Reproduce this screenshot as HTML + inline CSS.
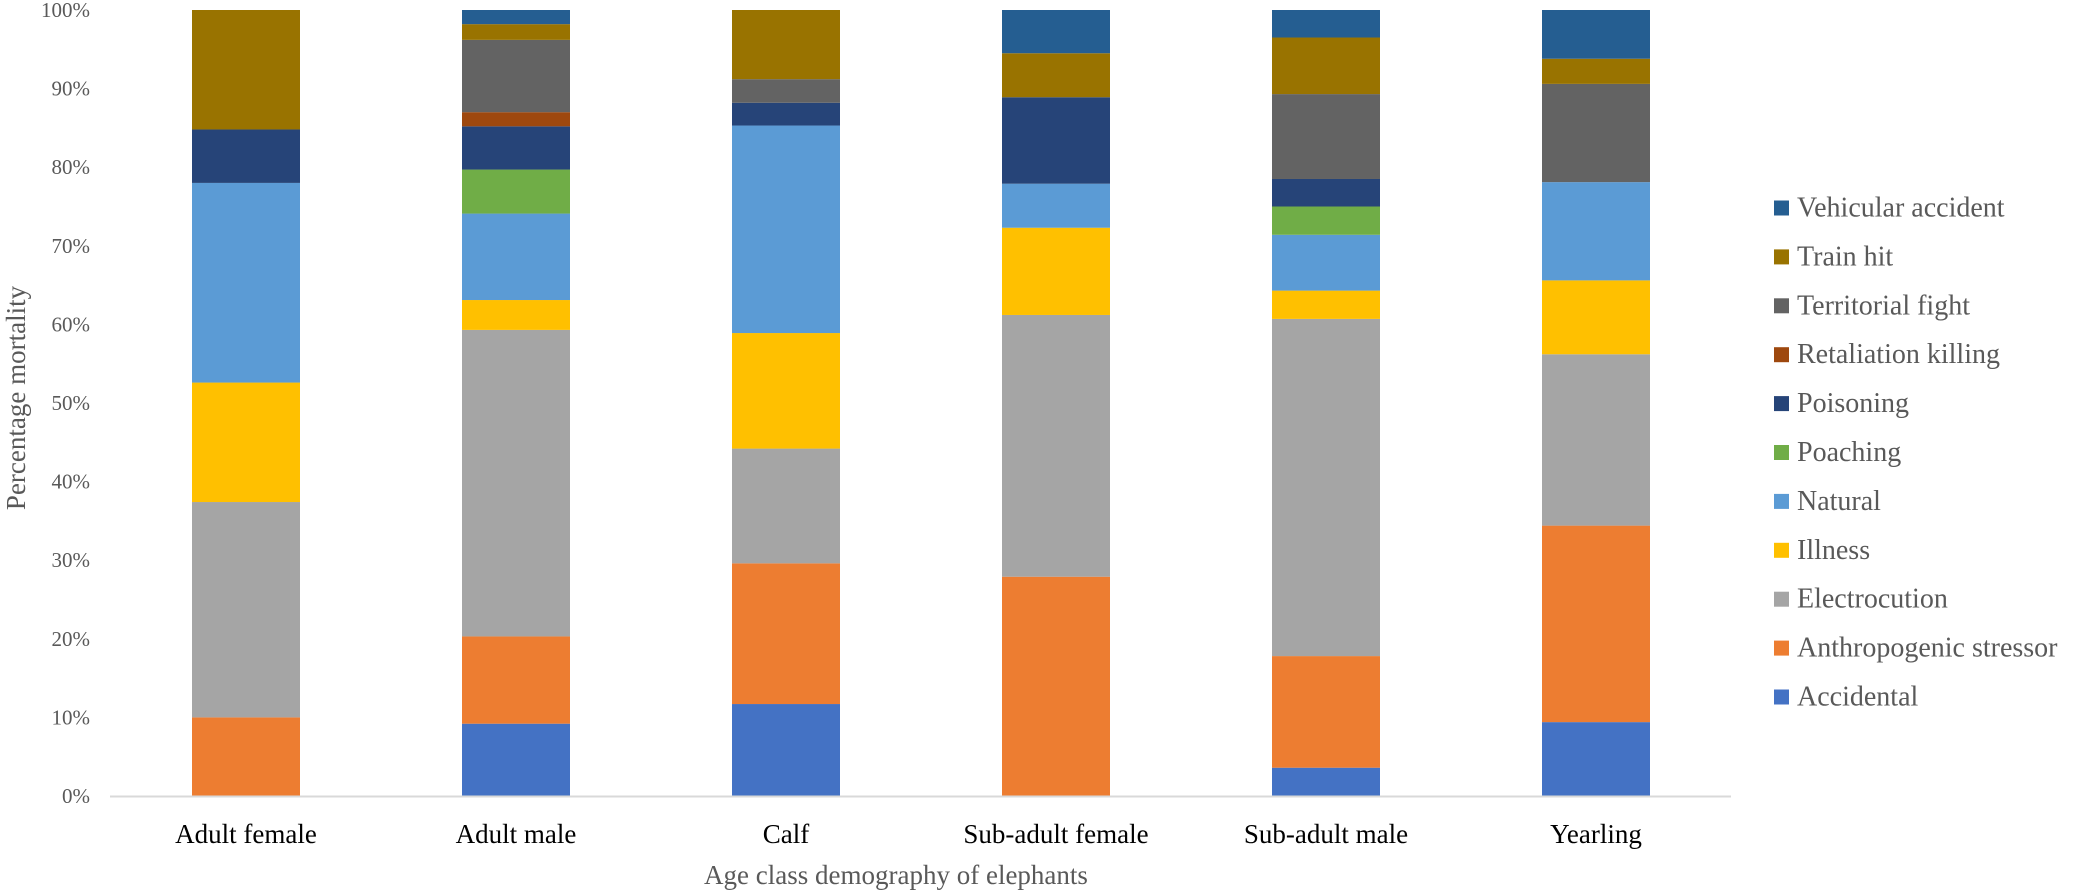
<!DOCTYPE html>
<html><head><meta charset="utf-8"><style>
html,body{margin:0;padding:0;background:#fff;}
svg{display:block;font-family:"Liberation Serif",serif;}
</style></head><body>
<svg id="chart" width="2082" height="892" viewBox="0 0 2082 892">
<g id="yticks"></g>
<g id="bars"></g>
<line x1="110" y1="796.5" x2="1731" y2="796.5" stroke="#d9d9d9" stroke-width="2"/>
<g id="xlabels"></g>
<text x="16" y="398" transform="rotate(-90 16 398)" text-anchor="middle" dominant-baseline="central" font-size="27" fill="#595959">Percentage mortality</text>
<text x="896" y="875" text-anchor="middle" dominant-baseline="central" font-size="27" fill="#595959">Age class demography of elephants</text>
<g id="legend"></g>
</svg>
<script>
const categories = ["Adult female","Adult male","Calf","Sub-adult female","Sub-adult male","Yearling"];
const seriesNames = ["Accidental","Anthropogenic stressor","Electrocution","Illness","Natural","Poaching","Poisoning","Retaliation killing","Territorial fight","Train hit","Vehicular accident"];
const accidental    = [0, 9.2, 11.7, 0, 3.6, 9.4];
const anthropogenic = [10, 11.1, 17.9, 27.9, 14.2, 25.0];
const electrocution = [27.4, 39.0, 14.6, 33.3, 42.9, 21.8];
const illness       = [15.2, 3.8, 14.7, 11.1, 3.6, 9.4];
const natural       = [25.4, 11.0, 26.4, 5.6, 7.1, 12.5];
const poaching      = [0, 5.6, 0, 0, 3.6, 0];
const poisoning     = [6.8, 5.5, 2.9, 11.0, 3.5, 0];
const retaliation   = [0, 1.8, 0, 0, 0, 0];
const territorial   = [0, 9.2, 3.0, 0, 10.8, 12.5];
const trainHit      = [15.2, 2.0, 8.8, 5.6, 7.2, 3.2];
const vehicular     = [0, 1.8, 0, 5.5, 3.5, 6.2];
const yTickLabels = ["0%","10%","20%","30%","40%","50%","60%","70%","80%","90%","100%"];
const yTickValues = [0,10,20,30,40,50,60,70,80,90,100];

const series = [accidental, anthropogenic, electrocution, illness, natural, poaching, poisoning, retaliation, territorial, trainHit, vehicular];
const colors = ["#4472C4","#ED7D31","#A5A5A5","#FFC000","#5B9BD5","#70AD47","#264478","#9E480E","#636363","#997300","#255E91"];
const NS = "http://www.w3.org/2000/svg";
const plotL = 111, plotR = 1731, plotT = 10, plotB = 796;
const bandW = (plotR - plotL) / categories.length;
const barW = 108;
function xCenter(i){ return plotL + bandW * (i + 0.5); }
function yScale(v){ return plotB - (v / 100) * (plotB - plotT); }

const yt = document.getElementById("yticks");
yTickValues.forEach((v, i) => {
  const t = document.createElementNS(NS, "text");
  t.setAttribute("x", 90); t.setAttribute("y", yScale(v));
  t.setAttribute("text-anchor", "end"); t.setAttribute("dominant-baseline", "central");
  t.setAttribute("font-size", "21"); t.setAttribute("fill", "#595959");
  t.textContent = yTickLabels[i];
  
  
  yt.appendChild(t);
});

const bars = document.getElementById("bars");
categories.forEach((c, i) => {
  let cum = 0;
  series.forEach((s, k) => {
    const v = s[i];
    if (v > 0) {
      const r = document.createElementNS(NS, "rect");
      const y0 = yScale(cum), y1 = yScale(cum + v);
      r.setAttribute("x", xCenter(i) - barW / 2);
      r.setAttribute("y", y1);
      r.setAttribute("width", barW);
      r.setAttribute("height", y0 - y1);
      r.setAttribute("fill", colors[k]);
      
      
      bars.appendChild(r);
    }
    cum += v;
  });
});

const xl = document.getElementById("xlabels");
categories.forEach((c, i) => {
  const t = document.createElementNS(NS, "text");
  t.setAttribute("x", xCenter(i)); t.setAttribute("y", 834);
  t.setAttribute("text-anchor", "middle"); t.setAttribute("dominant-baseline", "central");
  t.setAttribute("font-size", "27"); t.setAttribute("fill", "#000");
  t.textContent = c;
  
  
  xl.appendChild(t);
});

const lg = document.getElementById("legend");
for (let k = seriesNames.length - 1, row = 0; k >= 0; k--, row++) {
  const cy = 208 + row * 48.9;
  const r = document.createElementNS(NS, "rect");
  r.setAttribute("x", 1774); r.setAttribute("y", cy - 7.5);
  r.setAttribute("width", 15); r.setAttribute("height", 15);
  r.setAttribute("fill", colors[k]);
  
  
  lg.appendChild(r);
  const t = document.createElementNS(NS, "text");
  t.setAttribute("x", 1797); t.setAttribute("y", cy);
  t.setAttribute("dominant-baseline", "central");
  t.setAttribute("font-size", "28"); t.setAttribute("fill", "#595959");
  t.textContent = seriesNames[k];
  
  
  lg.appendChild(t);
}
</script>
</body></html>
